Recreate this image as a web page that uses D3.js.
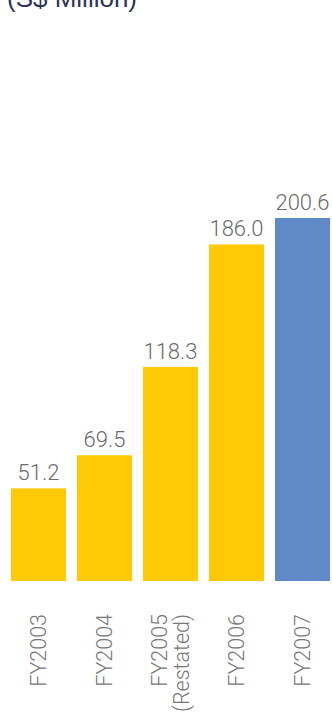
<!DOCTYPE html>
<html>
<head>
<meta charset="utf-8">
<script src="https://cdn.jsdelivr.net/npm/d3@7"></script>
<style>
  html, body { margin: 0; padding: 0; background: #fff; }
  svg { display: block; }
</style>
</head>
<body>
<div id="chart"></div>
<script>
// Revenue by financial year (S$ million)
const categories = ["FY2003", "FY2004", "FY2005", "FY2006", "FY2007"];
const categoryLines = [["FY2003"], ["FY2004"], ["FY2005", "(Restated)"], ["FY2006"], ["FY2007"]];
const values = [51.2, 69.5, 118.3, 186.0, 200.6];
const valueLabels = ["51.2", "69.5", "118.3", "186.0", "200.6"];
const unitLabel = "(S$ Million)";

const W = 332, H = 713;
const svg = d3.select("#chart").append("svg")
  .attr("width", W).attr("height", H);

const x = d3.scaleBand()
  .domain(categories)
  .range([5.5, 335.5])
  .paddingInner(1 / 6)
  .paddingOuter(1 / 12);

const y = d3.scaleLinear()
  .domain([0, 200.6])
  .range([581, 218]);

const barColor = (d, i) => i === categories.length - 1 ? "#5F8AC7" : "#FFCA05";

// unit title, sitting partly above the top edge
svg.append("text")
  .attr("x", 7)
  .attr("y", 7)
  .attr("font-family", "'Liberation Sans', Arial, sans-serif")
  .attr("font-size", 26)
  .attr("fill", "#2B3553")
  .text(unitLabel);

// bars
svg.append("g").selectAll("rect")
  .data(values)
  .join("rect")
  .attr("x", (d, i) => x(categories[i]))
  .attr("width", x.bandwidth())
  .attr("y", d => y(d))
  .attr("height", d => y(0) - y(d))
  .attr("fill", barColor);

// value labels
svg.append("g").selectAll("text")
  .data(values)
  .join("text")
  .attr("x", (d, i) => x(categories[i]) + x.bandwidth() / 2)
  .attr("y", d => y(d) - 8)
  .attr("text-anchor", "middle")
  .attr("font-family", "Roboto, 'Open Sans', sans-serif")
  .attr("font-weight", 300)
  .attr("font-size", 22)
  .attr("fill", "#6B6B6B")
  .text((d, i) => valueLabels[i]);

// rotated category labels
const axisG = svg.append("g");
categories.forEach((c, i) => {
  const lines = categoryLines[i];
  const cx = x(c) + x.bandwidth() / 2;
  const lineH = 22;
  const t = axisG.append("text")
    .attr("transform", `translate(${cx},614) rotate(-90)`)
    .attr("text-anchor", "end")
    .attr("font-family", "Roboto, 'Open Sans', sans-serif")
    .attr("font-weight", 300)
    .attr("font-size", 21.5)
    .attr("fill", "#777777");
  lines.forEach((ln, k) => {
    const offset = (k - (lines.length - 1) / 2) * lineH;
    t.append("tspan")
      .attr("x", 0)
      .attr("y", offset)
      .attr("dy", "0.35em")
      .text(ln);
  });
});
</script>
</body>
</html>
